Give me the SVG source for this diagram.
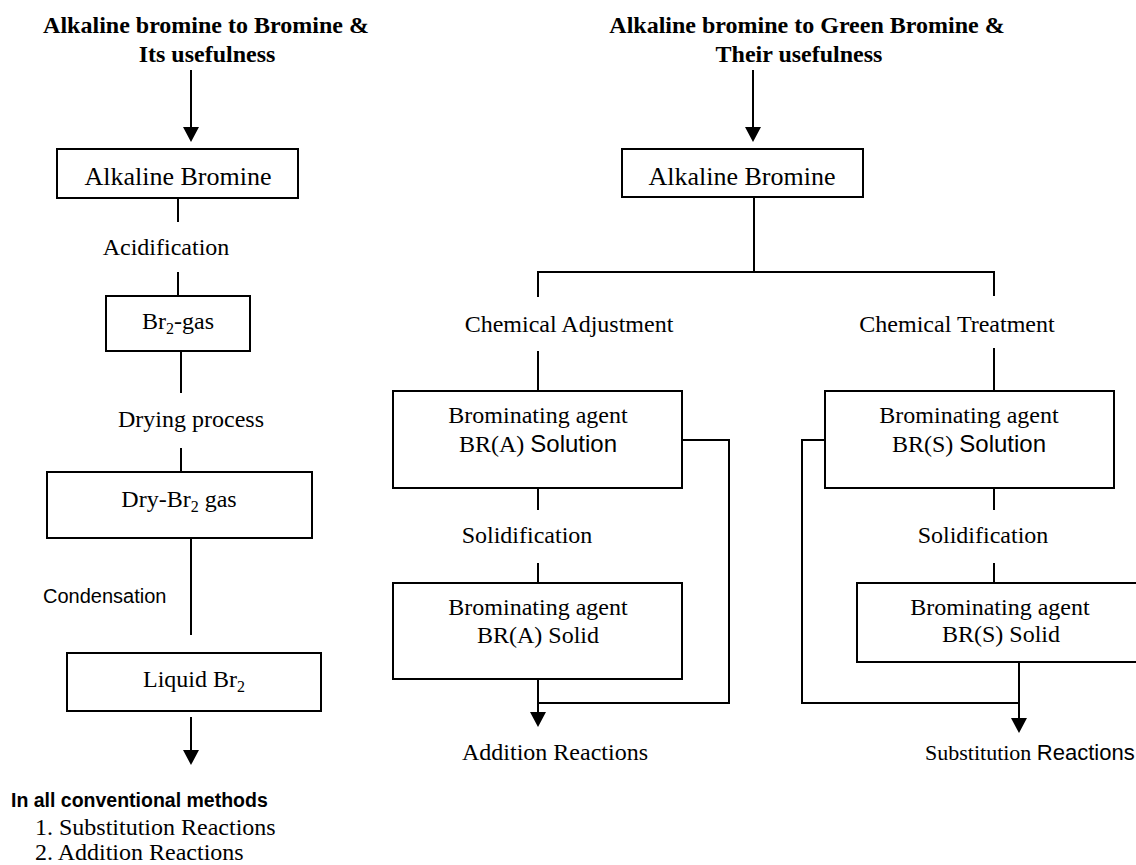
<svg xmlns="http://www.w3.org/2000/svg" width="1136" height="865" viewBox="0 0 1136 865">
<style>
  .serif { font-family: "Liberation Serif", "Times New Roman", serif; fill: #000; }
  .sans { font-family: "Liberation Sans", Arial, sans-serif; fill: #000; }
  .title { font-weight: bold; font-size: 24px; text-anchor: middle; }
  .lbl { font-size: 24px; }
  .mid { text-anchor: middle; }
  .box { fill: #fff; stroke: #000; stroke-width: 2; }
  .ln { fill: none; stroke: #000; stroke-width: 2; }
</style>
<defs>
  <marker id="arr" markerUnits="userSpaceOnUse" markerWidth="16" markerHeight="16" viewBox="0 0 16 16" refX="13" refY="8" orient="auto">
    <path d="M0,0 L15,8 L0,16 Z" fill="#000"/>
  </marker>
</defs>
<rect width="1136" height="865" fill="#fff"/>

<!-- connectors -->
<g id="connectors">
  <line class="ln" x1="191" y1="70" x2="191" y2="140" marker-end="url(#arr)"/>
  <line class="ln" x1="178" y1="198" x2="178" y2="222"/>
  <line class="ln" x1="178" y1="272" x2="178" y2="296"/>
  <line class="ln" x1="181" y1="351" x2="181" y2="393"/>
  <line class="ln" x1="181" y1="448" x2="181" y2="472"/>
  <line class="ln" x1="191" y1="538" x2="191" y2="635"/>
  <line class="ln" x1="191" y1="717" x2="191" y2="763" marker-end="url(#arr)"/>

  <line class="ln" x1="753" y1="70" x2="753" y2="140" marker-end="url(#arr)"/>
  <polyline class="ln" points="754,197 754,272"/>
  <polyline class="ln" points="538,297 538,272 994,272 994,296"/>
  <line class="ln" x1="538" y1="351" x2="538" y2="391"/>
  <line class="ln" x1="994" y1="348" x2="994" y2="391"/>
  <line class="ln" x1="538" y1="488" x2="538" y2="510"/>
  <line class="ln" x1="538" y1="563" x2="538" y2="583"/>
  <line class="ln" x1="994" y1="488" x2="994" y2="510"/>
  <line class="ln" x1="994" y1="563" x2="994" y2="583"/>
  <polyline class="ln" points="682,440 729,440 729,703 538,703"/>
  <polyline class="ln" points="825,440 802,440 802,703 1019,703"/>
  <line class="ln" x1="538" y1="679" x2="538" y2="725" marker-end="url(#arr)"/>
  <line class="ln" x1="1019" y1="662" x2="1019" y2="731" marker-end="url(#arr)"/>
</g>

<!-- titles -->
<g id="title-left">
  <text class="serif title" x="206" y="33">Alkaline bromine to Bromine &amp;</text>
  <text class="serif title" x="207" y="62">Its usefulness</text>
</g>
<g id="title-right">
  <text class="serif title" x="807" y="33">Alkaline bromine to Green Bromine &amp;</text>
  <text class="serif title" x="799" y="62">Their usefulness</text>
</g>

<!-- left column -->
<g id="n-alk-left">
  <rect class="box" x="57" y="149" width="241" height="49"/>
  <text class="serif mid" font-size="26" x="178" y="185">Alkaline Bromine</text>
</g>
<g id="l-acid"><text class="serif lbl mid" x="166" y="255">Acidification</text></g>
<g id="n-br2gas">
  <rect class="box" x="106" y="296" width="144" height="55"/>
  <text class="serif lbl mid" x="178" y="329">Br<tspan font-size="16" dy="5">2</tspan><tspan dy="-5">-gas</tspan></text>
</g>
<g id="l-dry"><text class="serif lbl mid" x="191" y="427">Drying process</text></g>
<g id="n-drybr2">
  <rect class="box" x="47" y="472" width="265" height="66"/>
  <text class="serif lbl mid" x="179" y="507">Dry-Br<tspan font-size="16" dy="5">2</tspan><tspan dy="-5"> gas</tspan></text>
</g>
<g id="l-cond"><text class="sans" font-size="20" x="43" y="603">Condensation</text></g>
<g id="n-liqbr2">
  <rect class="box" x="67" y="653" width="254" height="58"/>
  <text class="serif lbl mid" x="194" y="687">Liquid Br<tspan font-size="16" dy="5">2</tspan></text>
</g>
<g id="l-conv">
  <text class="sans" font-weight="bold" font-size="19.5" x="11" y="807">In all conventional methods</text>
  <text class="serif lbl" x="35" y="835">1. Substitution Reactions</text>
  <text class="serif lbl" x="35" y="860">2. Addition Reactions</text>
</g>

<!-- right column -->
<g id="n-alk-right">
  <rect class="box" x="622" y="149" width="241" height="48"/>
  <text class="serif mid" font-size="26" x="742" y="185">Alkaline Bromine</text>
</g>
<g id="l-adj"><text class="serif lbl mid" x="569" y="332">Chemical Adjustment</text></g>
<g id="l-treat"><text class="serif lbl mid" x="957" y="332">Chemical Treatment</text></g>
<g id="n-bra-sol">
  <rect class="box" x="393" y="391" width="289" height="97"/>
  <text class="serif lbl mid" x="538" y="423">Brominating agent</text>
  <text class="serif lbl mid" x="538" y="452">BR(A) <tspan class="sans">Solution</tspan></text>
</g>
<g id="n-brs-sol">
  <rect class="box" x="825" y="391" width="289" height="97"/>
  <text class="serif lbl mid" x="969" y="423">Brominating agent</text>
  <text class="serif lbl mid" x="969" y="452">BR(S) <tspan class="sans">Solution</tspan></text>
</g>
<g id="l-solid-a"><text class="serif lbl mid" x="527" y="543">Solidification</text></g>
<g id="l-solid-s"><text class="serif lbl mid" x="983" y="543">Solidification</text></g>
<g id="n-bra-solid">
  <rect class="box" x="393" y="583" width="289" height="96"/>
  <text class="serif lbl mid" x="538" y="615">Brominating agent</text>
  <text class="serif lbl mid" x="538" y="643">BR(A) Solid</text>
</g>
<g id="n-brs-solid">
  <rect class="box" x="857" y="583" width="290" height="79"/>
  <text class="serif lbl mid" x="1000" y="615">Brominating agent</text>
  <text class="serif lbl mid" x="1001" y="642">BR(S) Solid</text>
</g>
<g id="l-add"><text class="serif lbl mid" x="555" y="760">Addition Reactions</text></g>
<g id="l-subst"><text class="serif" font-size="22" x="925" y="760">Substitution <tspan class="sans">Reactions</tspan></text></g>
</svg>
